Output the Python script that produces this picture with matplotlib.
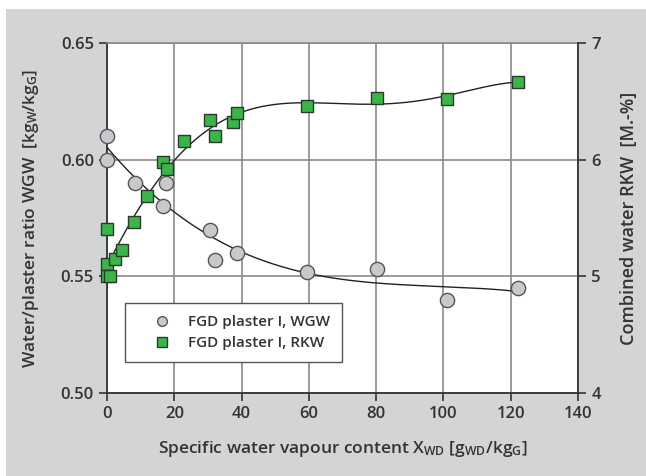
import numpy as np
import matplotlib.pyplot as plt
from matplotlib.patches import Rectangle

plt.rcParams['font.family'] = ['Open Sans', 'DejaVu Sans']
plt.rcParams['mathtext.default'] = 'regular'

# WGW data (left axis)
x_wgw = [0, 0, 8.3, 16.6, 17.5, 30.6, 32.1, 38.6, 59.5, 80.3, 101.0, 122.2]
wgw = [0.610, 0.600, 0.590, 0.580, 0.590, 0.570, 0.557, 0.560, 0.552, 0.553, 0.540, 0.545]

# RKW data (right axis)
x_rkw = [0, 0, 0, 1, 2.5, 4.5, 8, 12, 16.6, 17.8, 23, 30.6, 32.1, 37.5, 38.6, 59.5, 80.3, 101.0, 122.2]
rkw = [5.41, 5.11, 5.00, 5.00, 5.15, 5.23, 5.47, 5.69, 5.98, 5.92, 6.16, 6.34, 6.20, 6.32, 6.40, 6.46, 6.53, 6.52, 6.67]

grey_bg = '#d3d4d6'
dark = '#333333'

fig = plt.figure(figsize=(6.46, 4.76), dpi=100)
fig.patches.append(Rectangle((6/646, 0), 1, 1 - 9/476, transform=fig.transFigure,
                             facecolor=grey_bg, edgecolor='none', zorder=-10))

ax = fig.add_axes([107/646, 1 - 393/476, 471/646, 350/476])
ax2 = ax.twinx()

ax.set_xlim(0, 140)
ax.set_ylim(0.50, 0.65)
ax2.set_ylim(4, 7)
ax.set_xticks(range(0, 141, 20))
ax.set_yticks([0.50, 0.55, 0.60, 0.65])
ax.set_yticklabels(['0.50', '0.55', '0.60', '0.65'])
ax2.set_yticks([4, 5, 6, 7])

ax.grid(True, color='#8a8a8a', lw=1.2)
ax.set_axisbelow(True)
for s in ['left', 'bottom']:
    ax.spines[s].set_color(dark)
    ax.spines[s].set_linewidth(1.3)
ax.spines['top'].set_color('#8a8a8a')
ax.spines['top'].set_linewidth(1.2)
ax.spines['right'].set_visible(False)
ax2.spines['right'].set_color(dark)
ax2.spines['right'].set_linewidth(1.3)
for s in ['left', 'top', 'bottom']:
    ax2.spines[s].set_visible(False)

tick_kw = dict(direction='out', length=6, width=1.2, color=dark, labelsize=12,
               labelcolor=dark)
ax.tick_params(axis='both', **tick_kw)
ax2.tick_params(axis='y', **tick_kw)
for lab in ax.get_xticklabels() + ax.get_yticklabels() + ax2.get_yticklabels():
    lab.set_fontweight('semibold')

# trend lines from polynomial fits of the data
xf = np.linspace(0, 122.2, 300)
p1 = np.polyfit(x_wgw, wgw, 3)
p2 = np.polyfit(x_rkw, rkw, 5)
ax.plot(xf, np.polyval(p1, xf), color='#222222', lw=1.0, zorder=3)
ax2.plot(xf, np.polyval(p2, xf), color='#222222', lw=1.0, zorder=3)

ax.scatter(x_wgw, wgw, s=105, marker='o', facecolor='#c8c9cc',
           edgecolor='#555555', lw=1.0, zorder=4, clip_on=False)
ax2.scatter(x_rkw, rkw, s=85, marker='s', facecolor='#3bb44a',
            edgecolor='#2a3a2a', lw=1.0, zorder=4, clip_on=False)

lab_font = dict(fontsize=12.5, fontweight='semibold', color=dark)
ax.set_ylabel('Water/plaster ratio WGW  [kg$_W$/kg$_G$]', labelpad=14, **lab_font)
ax2.set_ylabel('Combined water RKW  [M.-%]', labelpad=14, fontsize=13,
               fontweight='semibold', color=dark)
ax.set_xlabel('Specific water vapour content X$_{WD}$ [g$_{WD}$/kg$_G$]', labelpad=12, **lab_font)

m1 = plt.Line2D([], [], marker='o', ls='none', markersize=7, markerfacecolor='#c8c9cc',
                markeredgecolor='#555555')
m2 = plt.Line2D([], [], marker='s', ls='none', markersize=7, markerfacecolor='#3bb44a',
                markeredgecolor='#2a3a2a')
leg = ax2.legend([m1, m2], ['FGD plaster I, WGW', 'FGD plaster I, RKW'],
                 loc='upper left', bbox_to_anchor=(18/471, 1 - 260/350),
                 borderaxespad=0, fancybox=False, framealpha=1, edgecolor='#555555',
                 prop={'size': 11, 'weight': 'semibold'}, labelcolor=dark,
                 borderpad=0.8, handlelength=3.2, handletextpad=0.1,
                 labelspacing=0.45)
leg.get_frame().set_linewidth(1.0)

fig.savefig('out.png', dpi=100)
